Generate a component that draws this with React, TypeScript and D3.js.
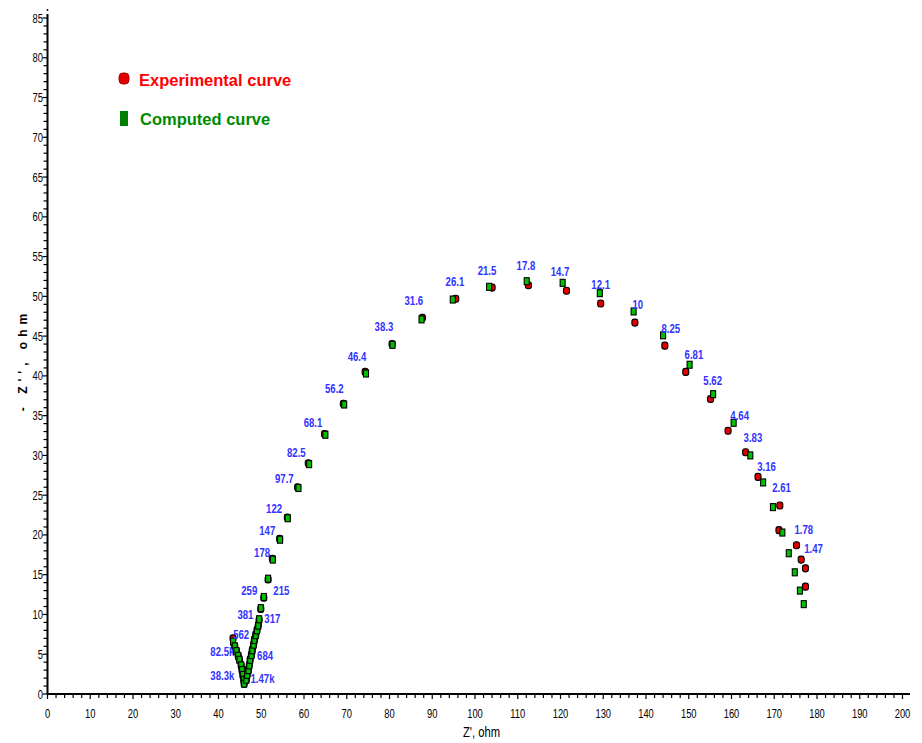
import React from "react";
import * as d3 from "d3";

// Computed curve (Z', -Z'') in ohm
const compX = [43.4, 43.8, 44.2, 44.6, 44.9, 45.3, 45.5, 45.7, 45.9, 46.0,
  46.5, 46.7, 47.0, 47.2, 47.4, 47.7, 47.9, 48.2, 48.4, 48.7, 49.0, 49.3, 49.5, 49.9, 50.6, 51.6,
  52.7, 54.4, 56.2, 58.7, 61.2, 65.0, 69.4, 74.5, 80.7, 87.5, 94.8, 103.3, 112.1, 120.5, 129.2,
  137.1, 144.0, 150.2, 155.7, 160.5, 164.4, 167.4, 169.7, 171.9, 173.4, 174.8, 176.0, 176.9];
const compY = [6.6, 6.0, 5.4, 4.8, 4.3, 3.6, 3.0, 2.4, 1.8, 1.3,
  1.8, 2.4, 3.0, 3.6, 4.3, 4.9, 5.5, 6.2, 6.8, 7.4, 8.0, 8.6, 9.4, 10.8, 12.2, 14.5,
  16.9, 19.4, 22.1, 25.9, 28.9, 32.6, 36.4, 40.3, 43.9, 47.1, 49.6, 51.2, 51.9, 51.7, 50.4,
  48.1, 45.1, 41.4, 37.7, 34.1, 30.0, 26.6, 23.5, 20.3, 17.7, 15.3, 13.0, 11.3];

// Experimental curve
const expX = [43.4, 43.8, 44.2, 44.6, 44.9, 45.3, 45.5, 45.7, 45.9, 46.0,
  46.5, 46.7, 47.0, 47.2, 47.4, 47.7, 47.9, 48.2, 48.4, 48.7, 49.0, 49.3, 49.5, 49.9, 50.6, 51.6,
  52.6, 54.3, 56.1, 58.5, 61.0, 64.8, 69.2, 74.3, 80.6, 87.7, 95.5, 104.0, 112.5, 121.4, 129.4,
  137.4, 144.4, 149.3, 155.1, 159.2, 163.3, 166.2, 171.3, 171.1, 175.2, 176.3, 177.3, 177.3];
const expY = [7.0, 6.0, 5.4, 4.8, 4.3, 3.6, 3.0, 2.4, 1.8, 1.3,
  1.8, 2.4, 3.0, 3.6, 4.3, 4.9, 5.5, 6.2, 6.8, 7.4, 8.0, 8.6, 9.3, 10.7, 12.1, 14.4,
  17.0, 19.5, 22.2, 26.0, 29.0, 32.7, 36.5, 40.5, 44.0, 47.3, 49.7, 51.1, 51.4, 50.7, 49.1,
  46.7, 43.8, 40.5, 37.1, 33.1, 30.4, 27.3, 23.7, 20.6, 18.7, 16.9, 15.8, 13.5];

// Frequency labels and their positions (data coordinates)
const labelText = ["82.5k", "38.3k", "1.47k", "684", "562", "381", "317", "259", "215", "178",
  "147", "122", "97.7", "82.5", "68.1", "56.2", "46.4", "38.3", "31.6", "26.1", "21.5", "17.8",
  "14.7", "12.1", "10", "8.25", "6.81", "5.62", "4.64", "3.83", "3.16", "2.61", "1.78", "1.47"];
const labelX = [40.9, 40.9, 50.3, 50.9, 45.3, 46.3, 52.6, 47.2, 54.7, 50.2,
  51.4, 53.0, 55.4, 58.2, 62.1, 67.1, 72.4, 78.7, 85.7, 95.3, 102.8, 111.9,
  119.9, 129.4, 138.1, 145.8, 151.2, 155.6, 161.9, 165.0, 168.2, 171.7, 176.9, 179.2];
const labelY = [5.3, 2.3, 1.9, 4.8, 7.4, 9.9, 9.4, 13.0, 13.0, 17.7,
  20.5, 23.3, 27.0, 30.3, 34.1, 38.4, 42.4, 46.2, 49.4, 51.8, 53.2, 53.8,
  53.1, 51.4, 48.9, 45.9, 42.6, 39.4, 35.0, 32.2, 28.6, 25.9, 20.6, 18.2];

const xMajor = d3.range(0, 201, 10);
const xMinor = d3.range(0, 201, 2);
const yMajor = d3.range(0, 86, 5);
const yMinor = d3.range(0, 86, 1);

const W = 922;
const H = 743;
const sans = "'Liberation Sans', Arial, sans-serif";

function NText(props: { x: number; y: number; sx: number; anchor: string; size: number; bold?: boolean; fill: string; children: any }) {
  return (
    <g transform={`translate(${props.x},${props.y}) scale(${props.sx},1)`}>
      <text x={0} y={0} textAnchor={props.anchor} fontFamily={sans} fontSize={props.size} fontWeight={props.bold ? "bold" : "normal"} fill={props.fill}>
        {props.children}
      </text>
    </g>
  );
}

export default function App() {
  const x = d3.scaleLinear().domain([0, 200]).range([47.5, 902.5]);
  const y = d3.scaleLinear().domain([0, 85]).range([694, 18]);

  return (
    <svg width={W} height={H} style={{ position: "absolute", left: 0, top: 0, background: "#fff" }}>
      {/* axes */}
      <line x1={x(0)} x2={910} y1={y(0)} y2={y(0)} stroke="#000" strokeWidth={2} />
      <line x1={x(0)} x2={x(0)} y1={y(0)} y2={14} stroke="#000" strokeWidth={2} />
      <circle cx={x(0)} cy={10} r={0.9} fill="#000" />
      {xMinor.map((v) => (
        <line key={"xm" + v} x1={x(v)} x2={x(v)} y1={y(0)} y2={y(0) + (v % 10 === 0 ? 5 : 4)} stroke="#000" strokeWidth={1.2} />
      ))}
      {yMinor.map((v) => (
        <line key={"ym" + v} x1={x(0)} x2={x(0) - (v % 5 === 0 ? 5 : 4)} y1={y(v)} y2={y(v)} stroke="#000" strokeWidth={1.2} />
      ))}
      {xMajor.map((v) => (
        <NText key={"xl" + v} x={x(v)} y={718} sx={0.72} anchor="middle" size={13} fill="#000">{v}</NText>
      ))}
      {yMajor.map((v) => (
        <NText key={"yl" + v} x={43} y={y(v) + 4.5} sx={0.72} anchor="end" size={13} fill="#000">{v}</NText>
      ))}
      <NText x={463} y={737} sx={0.75} anchor="start" size={15} fill="#000">Z', ohm</NText>
      <text transform={`translate(27,${y(42)}) rotate(-90)`} textAnchor="middle" fontFamily={sans} fontWeight="bold" fontSize={12} letterSpacing={5} fill="#000">- Z'', ohm</text>

      {/* experimental markers */}
      {expX.map((v, i) => (
        <rect key={"e" + i} x={x(v) - 3} y={y(expY[i]) - 3.5} width={6} height={7} rx={2.5} fill="#e00000" stroke="#000" strokeWidth={1.1} />
      ))}
      {/* computed markers */}
      {compX.map((v, i) => (
        <rect key={"c" + i} x={x(v) - 2.5} y={y(compY[i]) - 3.5} width={5} height={7} fill="#00c000" stroke="#000" strokeWidth={1.1} />
      ))}

      {/* frequency labels */}
      {labelText.map((t, i) => (
        <NText key={"l" + i} x={x(labelX[i])} y={y(labelY[i]) + 4} sx={0.8} anchor="middle" size={12} bold fill="#3232ff">{t}</NText>
      ))}

      {/* legend */}
      <rect x={119} y={73} width={10} height={11} rx={4} fill="#e00000" stroke="#b00000" strokeWidth={1} />
      <text x={139} y={86} fontFamily={sans} fontWeight="bold" fontSize={16.5} fill="#ff0000">Experimental curve</text>
      <rect x={120} y={111} width={8} height={15} fill="#008000" />
      <text x={140} y={125} fontFamily={sans} fontWeight="bold" fontSize={16.5} fill="#008a00">Computed curve</text>
    </svg>
  );
}
